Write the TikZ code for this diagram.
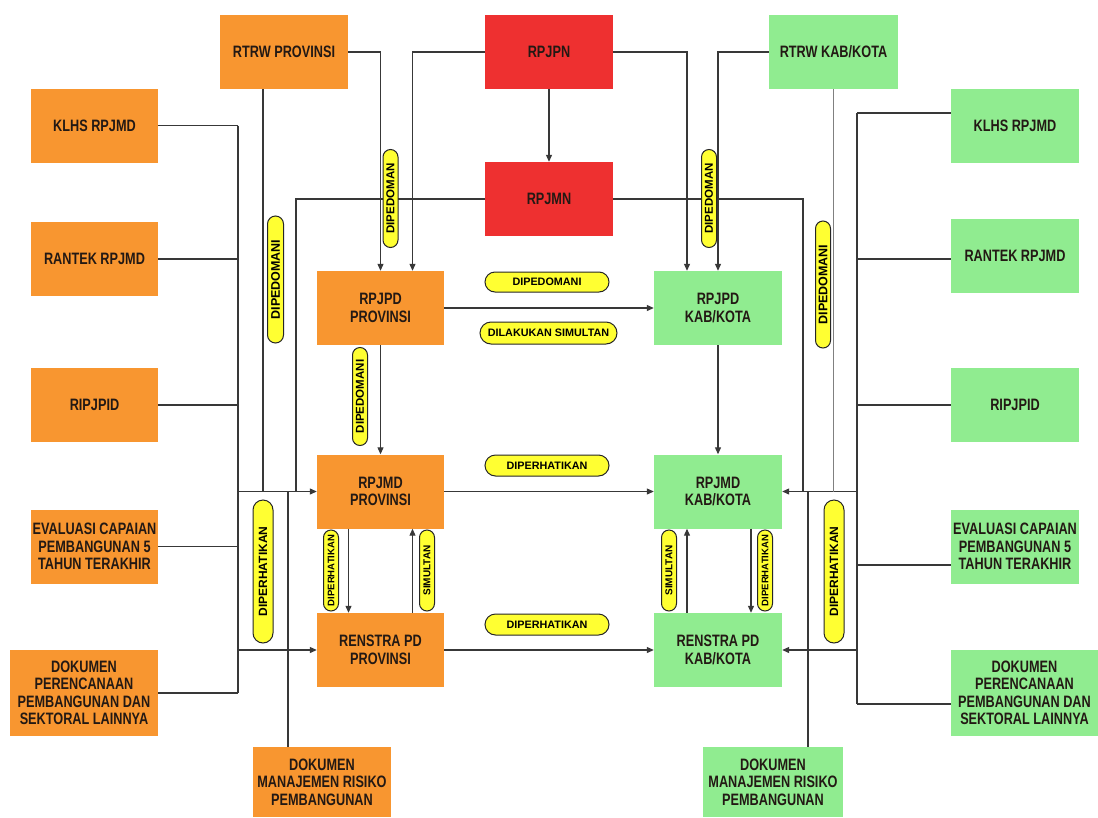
\documentclass[tikz,border=0pt]{standalone}
\usepackage{fontspec}
\setmainfont{Liberation Sans}
\newfontfamily\boxfont[FakeStretch=0.77]{Liberation Sans}
\usetikzlibrary{shapes.misc,arrows.meta}
\definecolor{orgc}{RGB}{248,150,48}
\definecolor{redc}{RGB}{238,48,48}
\definecolor{grnc}{RGB}{144,236,144}
\definecolor{yelc}{RGB}{255,255,50}
\definecolor{txtc}{RGB}{35,25,20}
\tikzset{
  box/.style={draw=none, inner sep=1pt, align=center, text=txtc,
    font=\boxfont\bfseries\fontsize{16.5}{17.5}\selectfont,
    minimum width=127pt, minimum height=74pt},
  obox/.style={box, fill=orgc},
  rbox/.style={box, fill=redc},
  gbox/.style={box, fill=grnc},
  lab/.style={rounded rectangle, draw=black!85, line width=1pt, fill=yelc,
    inner sep=0pt, text=black, font=\bfseries\fontsize{10.8}{10}\selectfont},
  vlab/.style={lab, rotate=90},
  ln/.style={draw=black!78, line width=1.1pt},
  arr/.style={ln, -{Triangle[length=7pt,width=6pt]}}
}
\begin{document}
\begin{tikzpicture}[x=1pt,y=-1pt]
\useasboundingbox[fill=white] (0,0) rectangle (1098,817);
% ---- boxes
\node[obox] (klhsL) at (94.5,125.5) {KLHS RPJMD};
\node[obox] (rantekL) at (94.5,259) {RANTEK RPJMD};
\node[obox] (ripL) at (94.5,405) {RIPJPID};
\node[obox] (evalL) at (94.5,546.5) {EVALUASI CAPAIAN\\PEMBANGUNAN 5\\TAHUN TERAKHIR};
\node[obox, minimum width=148pt, minimum height=86pt] (dokL) at (84,693) {DOKUMEN\\PERENCANAAN\\PEMBANGUNAN DAN\\SEKTORAL LAINNYA};
\node[obox, minimum width=128pt] (rtrwP) at (284,52) {RTRW PROVINSI};
\node[rbox, minimum width=128pt] (rpjpn) at (549,52) {RPJPN};
\node[rbox, minimum width=128pt] (rpjmn) at (549,199) {RPJMN};
\node[gbox, minimum width=129pt] (rtrwK) at (833.5,52) {RTRW KAB/KOTA};
\node[gbox, minimum width=128pt] (klhsR) at (1015,125.5) {KLHS RPJMD};
\node[gbox, minimum width=128pt] (rantekR) at (1015,256) {RANTEK RPJMD};
\node[gbox, minimum width=128pt] (ripR) at (1015,405) {RIPJPID};
\node[gbox, minimum width=128pt] (evalR) at (1015,546.5) {EVALUASI CAPAIAN\\PEMBANGUNAN 5\\TAHUN TERAKHIR};
\node[gbox, minimum width=147pt, minimum height=86pt] (dokR) at (1024.5,693) {DOKUMEN\\PERENCANAAN\\PEMBANGUNAN DAN\\SEKTORAL LAINNYA};
\node[obox] (rpjpdP) at (380.5,308) {RPJPD\\PROVINSI};
\node[gbox, minimum width=128pt] (rpjpdK) at (718,308) {RPJPD\\KAB/KOTA};
\node[obox] (rpjmdP) at (380.5,491.5) {RPJMD\\PROVINSI};
\node[gbox, minimum width=128pt] (rpjmdK) at (718,491.5) {RPJMD\\KAB/KOTA};
\node[obox] (renP) at (380.5,650) {RENSTRA PD\\PROVINSI};
\node[gbox, minimum width=128pt] (renK) at (718,650) {RENSTRA PD\\KAB/KOTA};
\node[obox, minimum width=138pt, minimum height=70pt] (dmrL) at (322,782) {DOKUMEN\\MANAJEMEN RISIKO\\PEMBANGUNAN};
\node[gbox, minimum width=140pt, minimum height=70pt] (dmrR) at (773,782) {DOKUMEN\\MANAJEMEN RISIKO\\PEMBANGUNAN};
% ---- helper coordinates
\coordinate (bL) at (238,0);
\coordinate (bR) at (857,0);
\coordinate (m1) at (296,0);
\coordinate (m2) at (803,0);
% ---- left bus
\draw[ln] (klhsL.east) -- (klhsL.east -| bL);
\draw[ln] (rantekL.east) -- (rantekL.east -| bL);
\draw[ln] (ripL.east) -- (ripL.east -| bL);
\draw[ln] (evalL.east) -- (evalL.east -| bL);
\draw[ln] (dokL.east) -- (dokL.east -| bL);
\draw[ln] (klhsL.east -| bL) -- (dokL.east -| bL);
\draw[arr] (rpjmdP.west -| bL) -- (rpjmdP.west);
\draw[arr] (renP.west -| bL) -- (renP.west);
\draw[ln] ([xshift=-21pt]rtrwP.south) -- ([xshift=-21pt]rtrwP.south |- rpjmdP.west);
\draw[ln] (rpjmn.west) -| (m1 |- rpjmdP.west);
\draw[ln] ([xshift=-34pt]dmrL.north) -- ([xshift=-34pt]dmrL.north |- rpjmdP.west);
% ---- right bus
\draw[ln] ([yshift=12.5pt]klhsR.west) -- ([yshift=12.5pt]klhsR.west -| bR);
\draw[ln] ([yshift=-3pt]rantekR.west) -- ([yshift=-3pt]rantekR.west -| bR);
\draw[ln] (ripR.west) -- (ripR.west -| bR);
\draw[ln] ([yshift=-18.5pt]evalR.west) -- ([yshift=-18.5pt]evalR.west -| bR);
\draw[ln] ([yshift=-11pt]dokR.west) -- ([yshift=-11pt]dokR.west -| bR);
\draw[ln] ([yshift=12.5pt]klhsR.west -| bR) -- ([yshift=-11pt]dokR.west -| bR);
\draw[arr] (rpjmdK.east -| bR) -- (rpjmdK.east);
\draw[arr] (renK.east -| bR) -- (renK.east);
\draw[ln, draw=black!50] (rtrwK.south) -- (rtrwK.south |- rpjmdK.east);
\draw[ln] (rpjmn.east) -| (m2 |- rpjmdK.east);
\draw[ln] ([xshift=35pt]dmrR.north) -- ([xshift=35pt]dmrR.north |- rpjmdK.east);
% ---- top arrows
\draw[arr] (rtrwP.east) -| (rpjpdP.north);
\draw[arr] (rpjpn.west) -| ([xshift=32pt]rpjpdP.north);
\draw[arr] (rpjpn.east) -| ([xshift=-31pt]rpjpdK.north);
\draw[arr] (rtrwK.west) -| (rpjpdK.north);
\draw[arr] (rpjpn) -- (rpjmn);
% ---- central arrows
\draw[arr] (rpjpdP) -- (rpjpdK);
\draw[arr] (rpjpdP) -- (rpjmdP);
\draw[arr] (rpjpdK) -- (rpjmdK);
\draw[arr] (rpjmdP) -- (rpjmdK);
\draw[arr] (renP) -- (renK);
\draw[arr] ([xshift=-32pt]rpjmdP.south) -- ([xshift=-32pt]renP.north);
\draw[arr] ([xshift=32pt]renP.north) -- ([xshift=32pt]rpjmdP.south);
\draw[arr] ([xshift=-31pt]renK.north) -- ([xshift=-31pt]rpjmdK.south);
\draw[arr] ([xshift=33pt]rpjmdK.south) -- ([xshift=33pt]renK.north);
% ---- labels
\node[lab, minimum width=124pt, minimum height=20pt] (h1) at (547,282) {DIPEDOMANI};
\node[lab, minimum width=137pt, minimum height=22pt] (h2) at (548.5,333) {DILAKUKAN SIMULTAN};
\node[lab, minimum width=124pt, minimum height=21pt] (h3) at (547,465.5) {DIPERHATIKAN};
\node[lab, minimum width=124pt, minimum height=21pt] (h4) at (547,624.5) {DIPERHATIKAN};
\node[vlab, minimum width=98pt, minimum height=15pt, font=\bfseries\fontsize{11.5}{10}\selectfont] (v1) at (390.5,198.5) {DIPEDOMAN};
\node[vlab, minimum width=127pt, minimum height=16pt, font=\bfseries\fontsize{12.5}{10}\selectfont] (v2) at (275.5,279.5) {DIPEDOMANI};
\node[vlab, minimum width=98pt, minimum height=15pt, font=\bfseries\fontsize{11.5}{10}\selectfont] (v3) at (360,396.5) {DIPEDOMANI};
\node[vlab, minimum width=143pt, minimum height=20pt, font=\bfseries\fontsize{12}{10}\selectfont] (v4) at (263,571.5) {DIPERHATIKAN};
\node[vlab, minimum width=81pt, minimum height=15pt, font=\bfseries\fontsize{9.5}{10}\selectfont] (v5) at (331,570.5) {DIPERHATIKAN};
\node[vlab, minimum width=81pt, minimum height=15pt, font=\bfseries\fontsize{10}{10}\selectfont] (v6) at (427,570.5) {SIMULTAN};
\node[vlab, minimum width=98pt, minimum height=15pt, font=\bfseries\fontsize{11.5}{10}\selectfont] (v7) at (709,198.5) {DIPEDOMAN};
\node[vlab, minimum width=127pt, minimum height=15pt, font=\bfseries\fontsize{12.5}{10}\selectfont] (v8) at (823,284.5) {DIPEDOMANI};
\node[vlab, minimum width=81pt, minimum height=15pt, font=\bfseries\fontsize{10}{10}\selectfont] (v9) at (669,570.5) {SIMULTAN};
\node[vlab, minimum width=81pt, minimum height=15pt, font=\bfseries\fontsize{9.5}{10}\selectfont] (v10) at (765,570.5) {DIPERHATIKAN};
\node[vlab, minimum width=143pt, minimum height=20pt, font=\bfseries\fontsize{12}{10}\selectfont] (v11) at (834,571.5) {DIPERHATIKAN};
\end{tikzpicture}
\end{document}
